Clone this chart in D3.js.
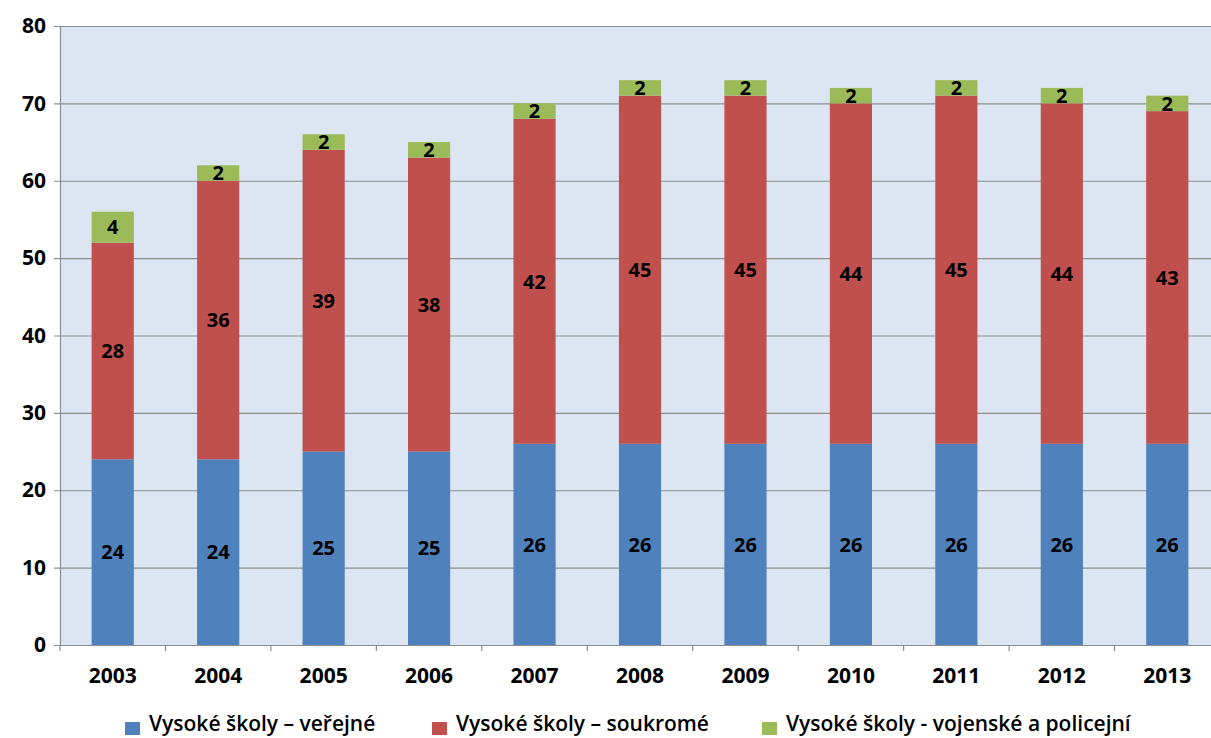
<!DOCTYPE html>
<html>
<head>
<meta charset="utf-8">
<script src="https://cdn.jsdelivr.net/npm/d3@7"></script>
<style>
  html, body { margin: 0; padding: 0; background: #ffffff; }
  svg { display: block; }
</style>
</head>
<body>
<svg id="chart" width="1211" height="738"></svg>
<script>
// Number of higher education institutions by type, 2003–2013
const years = ["2003", "2004", "2005", "2006", "2007", "2008", "2009", "2010", "2011", "2012", "2013"];
const verejne = [24, 24, 25, 25, 26, 26, 26, 26, 26, 26, 26];
const soukrome = [28, 36, 39, 38, 42, 45, 45, 44, 45, 44, 43];
const vojenske = [4, 2, 2, 2, 2, 2, 2, 2, 2, 2, 2];
const seriesNames = [
  "Vysoké školy – veřejné",
  "Vysoké školy – soukromé",
  "Vysoké školy - vojenské a policejní"
];
const yTicks = [0, 10, 20, 30, 40, 50, 60, 70, 80];

const colors = ["#4f81bd", "#c0504d", "#9bbb59"];

const svg = d3.select("#chart");
const plot = { left: 60, top: 26, right: 1220, bottom: 645 };

const table = years.map((y, i) => ({
  year: y,
  s0: verejne[i],
  s1: soukrome[i],
  s2: vojenske[i]
}));
const stack = d3.stack().keys(["s0", "s1", "s2"]);
const layers = stack(table);

const x = d3.scaleBand()
  .domain(years)
  .range([plot.left, plot.right])
  .paddingInner(0.6)
  .paddingOuter(0.3);

const y = d3.scaleLinear()
  .domain([0, 80])
  .range([plot.bottom, plot.top]);

// Plot background
svg.append("rect")
  .attr("x", plot.left)
  .attr("y", plot.top)
  .attr("width", plot.right - plot.left)
  .attr("height", plot.bottom - plot.top)
  .attr("fill", "#dce6f2");

// Horizontal gridlines with ticks extending left of the axis
const yAxis = d3.axisLeft(y)
  .tickValues(yTicks)
  .tickSize(-(plot.right - plot.left))
  .tickSizeOuter(0)
  .tickPadding(14);

const gy = svg.append("g")
  .attr("transform", `translate(${plot.left},0)`)
  .call(yAxis);
gy.select(".domain").attr("stroke", "#8c8c8c").attr("stroke-width", 1.2);
gy.selectAll(".tick line")
  .attr("x1", -6)
  .attr("stroke", "#8c8c8c")
  .attr("stroke-width", 1.2);
gy.selectAll(".tick text")
  .attr("font-family", "'Open Sans', sans-serif")
  .attr("font-weight", 700)
  .attr("font-size", 21)
  .attr("fill", "#000");

// Bars
const layerG = svg.append("g")
  .selectAll("g")
  .data(layers)
  .join("g")
  .attr("fill", (d, i) => colors[i]);

layerG.selectAll("rect")
  .data(d => d)
  .join("rect")
  .attr("x", d => x(d.data.year))
  .attr("y", d => y(d[1]))
  .attr("width", x.bandwidth())
  .attr("height", d => y(d[0]) - y(d[1]));

// Value labels at segment centres
const labelG = svg.append("g")
  .attr("font-family", "'Open Sans', sans-serif")
  .attr("font-weight", 700)
  .attr("font-size", 20)
  .attr("fill", "#000")
  .attr("text-anchor", "middle");

layers.forEach(layer => {
  labelG.selectAll(null)
    .data(layer)
    .join("text")
    .attr("x", d => x(d.data.year) + x.bandwidth() / 2)
    .attr("y", d => (y(d[0]) + y(d[1])) / 2)
    .attr("dy", "0.36em")
    .text(d => d[1] - d[0]);
});

// Category axis along the bottom
const xAxis = d3.axisBottom(x).tickSize(0).tickPadding(23);
const gx = svg.append("g")
  .attr("transform", `translate(0,${plot.bottom})`)
  .call(xAxis);
gx.select(".domain").attr("stroke", "#8c8c8c").attr("stroke-width", 1.2);
gx.selectAll(".tick text")
  .attr("font-family", "'Open Sans', sans-serif")
  .attr("font-weight", 700)
  .attr("font-size", 21)
  .attr("fill", "#000");

// Tick marks between categories
const boundaries = d3.range(years.length + 1).map(i => plot.left + i * x.step());
gx.selectAll(".sep")
  .data(boundaries)
  .join("line")
  .attr("class", "sep")
  .attr("x1", d => d).attr("x2", d => d)
  .attr("y1", 0).attr("y2", 6)
  .attr("stroke", "#8c8c8c")
  .attr("stroke-width", 1.2);

// Legend
const legendX = [125, 432, 762];
const legend = svg.append("g")
  .selectAll("g")
  .data(seriesNames)
  .join("g")
  .attr("transform", (d, i) => `translate(${legendX[i]},724)`);
legend.append("rect")
  .attr("x", 0).attr("y", -2)
  .attr("width", 15).attr("height", 13)
  .attr("fill", (d, i) => colors[i]);
legend.append("text")
  .attr("x", 24)
  .attr("dy", "0.35em")
  .attr("font-family", "'Open Sans', sans-serif")
  .attr("font-weight", 600)
  .attr("font-size", 21)
  .attr("fill", "#000")
  .text(d => d);
</script>
</body>
</html>
